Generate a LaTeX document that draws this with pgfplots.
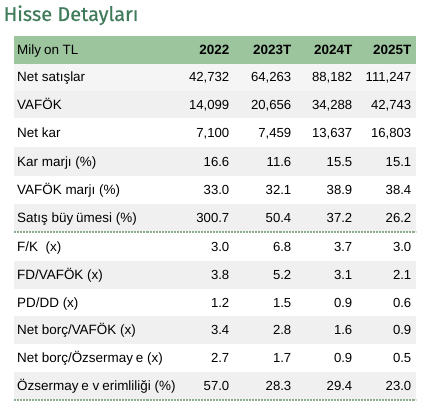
\documentclass[border=0pt]{standalone}
\usepackage{fontspec}
\setmainfont{Liberation Sans}
\newfontfamily\titlefont[FakeBold=0.5]{Fira Sans}
\usepackage{pgfplots}
\usepackage{pgfplotstable}
\pgfplotsset{compat=1.18}
\definecolor{hdr}{HTML}{9CC59E}
\definecolor{ttl}{HTML}{3F7B5A}
\definecolor{rowg}{HTML}{F0F0F0}
\definecolor{rowf}{HTML}{F5F5F5}
\definecolor{dots}{HTML}{8DAE90}
\newcommand\yk{\kern0.22em}

\pgfplotstableread[col sep=semicolon]{
y;label;a;b;c;d
82;Net satışlar;42,732;64,263;88,182;111,247
109;VAFÖK;14,099;20,656;34,288;42,743
137;Net kar;7,100;7,459;13,637;16,803
166;Kar marjı (\%);16.6;11.6;15.5;15.1
194.5;VAFÖK marjı (\%);33.0;32.1;38.9;38.4
222.5;Satış büy\yk ümesi (\%);300.7;50.4;37.2;26.2
251;F/K\ \ (x);3.0;6.8;3.7;3.0
279.5;FD/VAFÖK (x);3.8;5.2;3.1;2.1
307;PD/DD (x);1.2;1.5;0.9;0.6
334.5;Net borç/VAFÖK (x);3.4;2.8;1.6;0.9
362.5;Net borç/Özsermay\yk e (x);2.7;1.7;0.9;0.5
390.5;Özsermay\yk e v\yk erimliliği (\%);57.0;28.3;29.4;23.0
}\datatable

\pgfplotstableread[col sep=semicolon]{
x;y;lab
229.5;55;2022
291.5;55;2023T
352.5;55;2024T
411.5;55;2025T
}\hdrtable

\begin{document}
\begin{tikzpicture}
\begin{axis}[
  width=422bp, height=405bp, scale only axis,
  xmin=0, xmax=422, ymin=0, ymax=405, y dir=reverse,
  axis lines=none, ticks=none, clip=false,
  point meta=explicit symbolic,
]
% header and row backgrounds
\fill[hdr] (axis cs:14,36) rectangle (axis cs:416,64);
\fill[rowf] (axis cs:14,64) rectangle (axis cs:416,91);
\fill[rowg] (axis cs:14,91) rectangle (axis cs:416,118);
\fill[rowg] (axis cs:14,147) rectangle (axis cs:416,176);
\fill[rowg] (axis cs:14,204) rectangle (axis cs:416,232);
\fill[rowg] (axis cs:14,261) rectangle (axis cs:416,289);
\fill[rowg] (axis cs:14,316) rectangle (axis cs:416,344);
\fill[rowg] (axis cs:14,372) rectangle (axis cs:416,400);
\draw[dots, line width=1.3pt, dash pattern=on 0.6pt off 0.9pt] (axis cs:14,232) -- (axis cs:416,232);
\draw[dots, line width=1.3pt, dash pattern=on 0.6pt off 0.9pt] (axis cs:14,400) -- (axis cs:416,400);
% title
\node[anchor=base west, inner sep=0pt, text=ttl, font=\titlefont\fontsize{20}{22}\selectfont] at (axis cs:3.5,21) {Hisse Detayları};
% header labels
\addplot[only marks, mark=none, nodes near coords,
  every node near coord/.append style={anchor=base west, inner sep=0pt, font=\fontsize{13.5}{15}\selectfont}]
  coordinates {(17,55) [Mily\yk on TL]};
\addplot[only marks, mark=none, nodes near coords,
  every node near coord/.append style={anchor=base east, inner sep=0pt, font=\fontsize{13.5}{15}\selectfont\bfseries}]
  table[x=x, y=y, meta=lab]{\hdrtable};
% row labels
\addplot[only marks, mark=none, nodes near coords,
  every node near coord/.append style={anchor=base west, inner sep=0pt, font=\fontsize{13.5}{15}\selectfont}]
  table[x expr=17, y=y, meta=label]{\datatable};
% values
\addplot[only marks, mark=none, nodes near coords,
  every node near coord/.append style={anchor=base east, inner sep=0pt, font=\fontsize{13.2}{15}\selectfont}]
  table[x expr=229.5, y=y, meta=a]{\datatable};
\addplot[only marks, mark=none, nodes near coords,
  every node near coord/.append style={anchor=base east, inner sep=0pt, font=\fontsize{13.2}{15}\selectfont}]
  table[x expr=291.5, y=y, meta=b]{\datatable};
\addplot[only marks, mark=none, nodes near coords,
  every node near coord/.append style={anchor=base east, inner sep=0pt, font=\fontsize{13.2}{15}\selectfont}]
  table[x expr=352.5, y=y, meta=c]{\datatable};
\addplot[only marks, mark=none, nodes near coords,
  every node near coord/.append style={anchor=base east, inner sep=0pt, font=\fontsize{13.2}{15}\selectfont}]
  table[x expr=411.5, y=y, meta=d]{\datatable};
\end{axis}
\pgfresetboundingbox
\path[use as bounding box] (current axis.south west) rectangle (current axis.north east);
\end{tikzpicture}
\end{document}
